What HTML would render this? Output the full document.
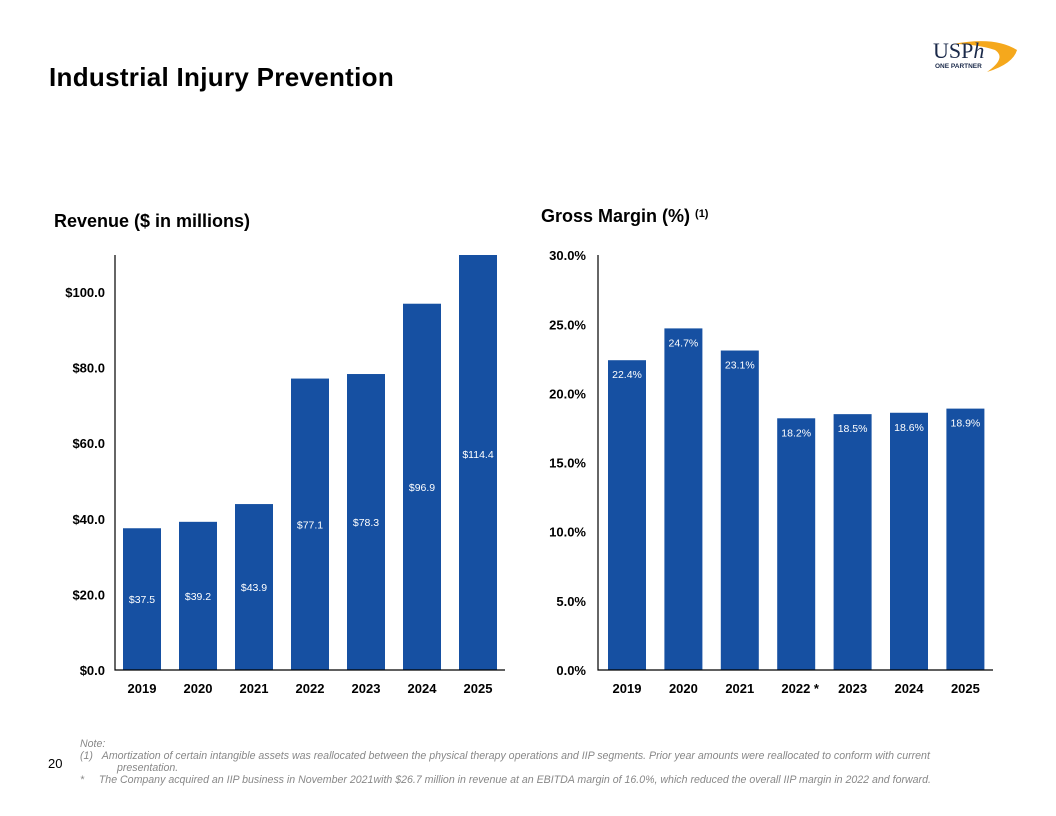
<!DOCTYPE html>
<html><head><meta charset="utf-8"><style>
body{margin:0;width:1056px;height:816px;background:#fff;font-family:"Liberation Sans",Arial,sans-serif;position:relative;overflow:hidden}
.t{position:absolute}
</style></head><body>
<div class="t" style="left:49px;top:62px;font-size:26px;font-weight:bold;color:#000;letter-spacing:0.3px">Industrial Injury Prevention</div>
<div class="t" style="left:925px;top:28px;width:100px;height:45px">
<svg width="100" height="45"><path d="M28 16 Q70 8 92 22 Q88 36 62 44 Q82 30 70 22 Q52 16 28 16Z" fill="#f5a81c"/>
<text x="8" y="30" font-family="Liberation Serif" font-size="22" fill="#1b2a4a">USP<tspan font-style="italic">h</tspan></text>
<text x="10" y="40" font-size="6.5" font-weight="bold" fill="#1b2a4a">ONE PARTNER</text></svg></div>
<svg class="t" style="left:0;top:0" width="1056" height="816">
<text x="54" y="227" font-size="18" font-weight="bold">Revenue ($ in millions)</text>
<text x="541" y="222" font-size="18" font-weight="bold">Gross Margin (%) <tspan font-size="11" dy="-5">(1)</tspan></text>
<g id="left"></g><g id="right"></g>
</svg>
<div class="t" style="left:48px;top:756px;font-size:13px">20</div>
<div class="t" style="left:80px;top:738px;font-size:10.6px;font-style:italic;color:#888;line-height:12px;width:960px">
Note:<br>(1)&nbsp;&nbsp;&nbsp;Amortization of certain intangible assets was reallocated between the physical therapy operations and IIP segments. Prior year amounts were reallocated to conform with current<br><span style="padding-left:37px">presentation.</span><br>*&nbsp;&nbsp;&nbsp;&nbsp;&nbsp;The Company acquired an IIP business in November 2021with $26.7 million in revenue at an EBITDA margin of 16.0%, which reduced the overall IIP margin in 2022 and forward.</div>
<script>
const years=["2019","2020","2021","2022","2023","2024","2025"];
const xLabelsRight=["2019","2020","2021","2022 *","2023","2024","2025"];
const revenue=[37.5,39.2,43.9,77.1,78.3,96.9,114.4];
const margin=[22.4,24.7,23.1,18.2,18.5,18.6,18.9];
const revTicks=[0,20,40,60,80,100];
const marTicks=[0,5,10,15,20,25,30];
const NS="http://www.w3.org/2000/svg";
function mk(g,tag,a,txt){const e=document.createElementNS(NS,tag);for(const k in a)e.setAttribute(k,a[k]);if(txt!==undefined)e.textContent=txt;g.appendChild(e);return e;}
const L=document.getElementById('left');
const ly=v=>Math.max(255,670-v*3.78), lx=i=>142+i*56;
revTicks.forEach(t=>{const e=mk(L,'text',{x:105,y:670-t*3.78+5,'text-anchor':'end','font-size':13,'font-weight':'bold'},'$'+t.toFixed(1));

});
revenue.forEach((v,i)=>{const r=mk(L,'rect',{x:lx(i)-19,y:ly(v),width:38,height:670-ly(v),fill:'#1650a2'});


const l=mk(L,'text',{x:lx(i),y:670-v*3.78/2+4,'text-anchor':'middle','font-size':10.5,fill:'#fff'},'$'+v.toFixed(1));


const x=mk(L,'text',{x:lx(i),y:693,'text-anchor':'middle','font-size':13,'font-weight':'bold'},years[i]);

});
mk(L,'path',{d:'M115 255V670H505',stroke:'#000','stroke-width':1.2,fill:'none'});
const R=document.getElementById('right');
const ry=v=>670-v*13.83, rx=i=>627+i*56.4;
marTicks.forEach(t=>{const e=mk(R,'text',{x:586,y:ry(t)+5,'text-anchor':'end','font-size':13,'font-weight':'bold'},t.toFixed(1)+'%');

});
margin.forEach((v,i)=>{const r=mk(R,'rect',{x:rx(i)-19,y:ry(v),width:38,height:670-ry(v),fill:'#1650a2'});


const l=mk(R,'text',{x:rx(i),y:ry(v)+18,'text-anchor':'middle','font-size':10.5,fill:'#fff'},v.toFixed(1)+'%');


const x=mk(R,'text',{x:rx(i)+(i==3?4:0),y:693,'text-anchor':'middle','font-size':13,'font-weight':'bold'},xLabelsRight[i]);

});
mk(R,'path',{d:'M598 255V670H993',stroke:'#000','stroke-width':1.2,fill:'none'});
</script>
</body></html>
